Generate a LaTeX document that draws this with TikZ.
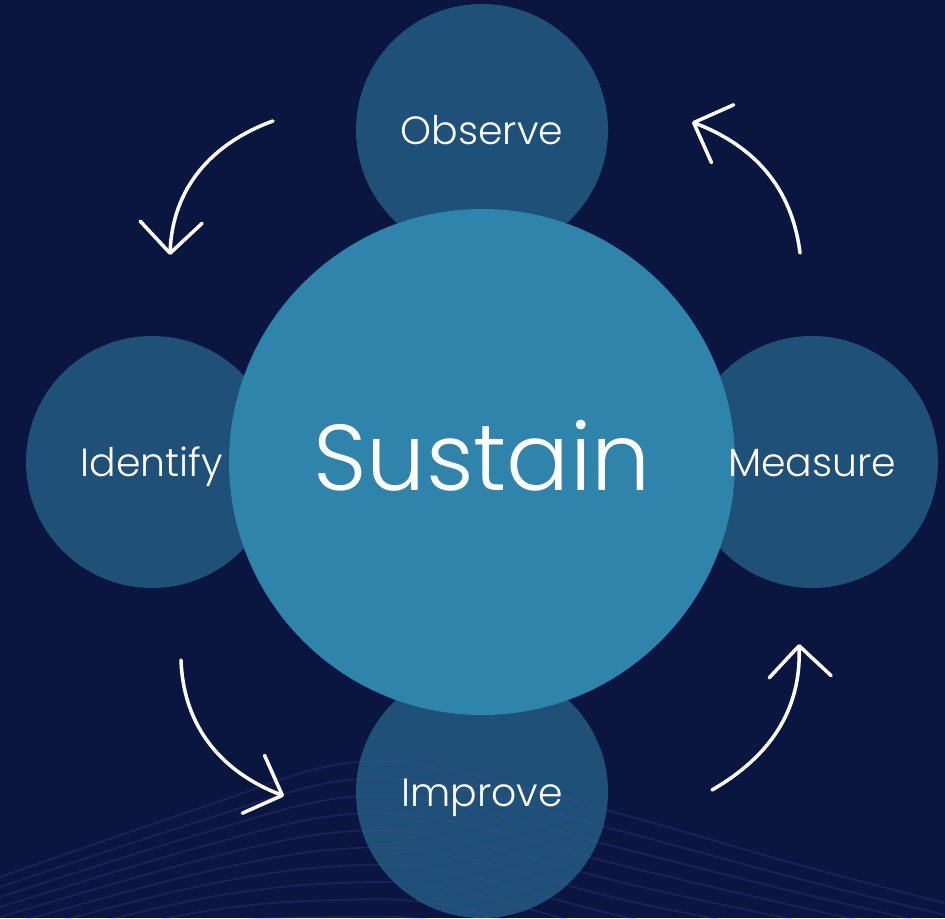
\documentclass[tikz,border=0pt]{standalone}
\usepackage{fontspec}
\setmainfont{Poppins Light}
\usetikzlibrary{arrows.meta}
\definecolor{navy}{RGB}{10,21,64}
\definecolor{stepblue}{RGB}{30,80,120}
\definecolor{coreblue}{RGB}{46,132,171}
\definecolor{wavepurple}{RGB}{90,74,176}

\begin{document}
\begin{tikzpicture}[
  phase/.style={circle,fill=stepblue,minimum size=2.52cm,inner sep=0pt},
  phase label/.style={text=white,font=\fontsize{11.2}{14}\selectfont,
    text height=8pt,text depth=0pt,inner sep=0pt},
  core/.style={circle,fill=coreblue,minimum size=5.06cm,inner sep=0pt,text=white,
    font=\fontsize{26.6}{32}\selectfont,text height=19pt,text depth=3pt},
  cycle arrow/.style={draw=white,line width=1pt,line cap=round,
    -{Straight Barb[length=3.1mm,width=6.2mm,round]}},
  wave/.style={draw=wavepurple,opacity=.22,line width=.5pt}
]
\fill[navy] (0,0) rectangle (9.45,9.18);

% the four phases round the core
\node[phase] (OBS) at (4.82,7.88) {};
\node[phase] (IDE) at (1.52,4.56) {};
\node[phase] (MEA) at (8.12,4.56) {};
\node[phase] (IMP) at (4.82,1.26) {};

% faint wave lines along the bottom
\begin{scope}[x=0.01cm,y=0.01cm]
\clip (0,0) rectangle (945,918);
\foreach \k in {0,...,9}
  \draw[wave] plot[smooth,tension=.6] coordinates {(0,{41-10*\k}) (200,{110-13*\k}) (340,{154-17*\k}) (450,{148-17*\k}) (625,{103-17*\k}) (800,{53-14*\k}) (945,{15-12*\k})};
\end{scope}

\node[core] (SUS) at (4.82,4.56) {Sustain};

% names of the phases, over the core
\node[phase label] (OBSt) at (OBS) {Observe};
\node[phase label] (IDEt) at (IDE) {Identify};
\node[phase label] (MEAt) at (MEA) {Measure};
\node[phase label] (IMPt) at (IMP) {Improve};

% arrows of the cycle
\coordinate (O1) at (2.73,7.97);  \coordinate (I1) at (1.70,6.63);
\coordinate (I2) at (1.81,2.58);  \coordinate (P1) at (2.84,1.22);
\coordinate (P2) at (7.12,1.28);  \coordinate (M1) at (7.99,2.74);
\coordinate (M2) at (8.00,6.65);  \coordinate (O2) at (6.92,7.96);
\draw[cycle arrow] (O1) to[out=200,in=88] (I1);
\draw[cycle arrow] (I2) to[out=-88,in=159] (P1);
\draw[cycle arrow] (P2) to[out=30,in=-88] (M1);
\draw[cycle arrow] (M2) to[out=97,in=-21] (O2);
\end{tikzpicture}
\end{document}
